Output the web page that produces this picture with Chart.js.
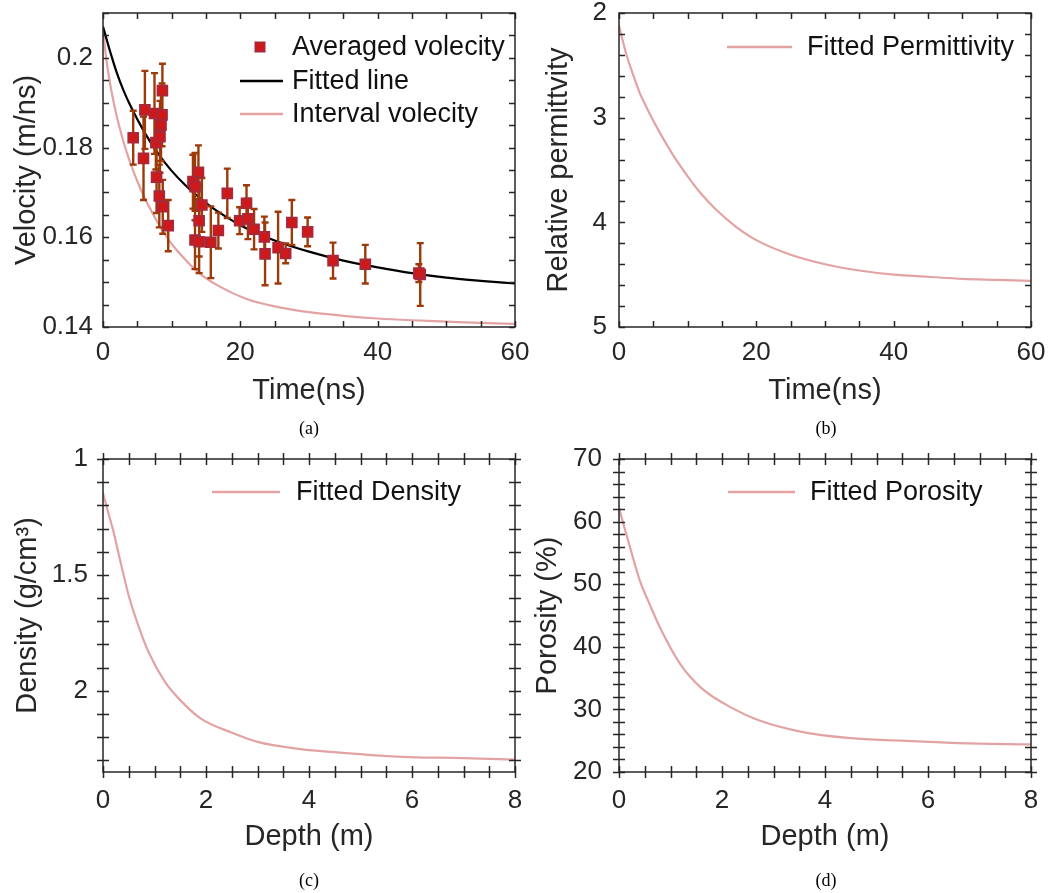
<!DOCTYPE html>
<html><head><meta charset="utf-8">
<script src="https://cdn.jsdelivr.net/npm/chart.js@4"></script>
<style>
html,body{margin:0;padding:0;background:#fff;}
#wrap{position:relative;width:1049px;height:893px;overflow:hidden;background:#fff;}
canvas{position:absolute;left:-60px;top:-60px;}
.cap{position:absolute;font-family:"Liberation Serif","Times New Roman",serif;font-size:18px;color:#000;transform:translate(-50%,-50%);white-space:nowrap;}
</style></head><body>
<div id="wrap">
<canvas id="ca" width="1169" height="1013"></canvas>
<canvas id="cb" width="1169" height="1013"></canvas>
<canvas id="cc" width="1169" height="1013"></canvas>
<canvas id="cd" width="1169" height="1013"></canvas>
<div class="cap" style="left:309px;top:428px">(a)</div>
<div class="cap" style="left:826px;top:428px">(b)</div>
<div class="cap" style="left:309px;top:880px">(c)</div>
<div class="cap" style="left:826px;top:880px">(d)</div>
</div>
<script>
// ---------- data ----------
const avgTime = [4.4, 5.9, 6.1, 7.5, 7.7, 7.8, 8.2, 8.3, 8.45, 8.6, 8.65, 8.7, 9.5, 13.1, 13.4, 13.4, 13.9, 14.0, 14.0, 14.4, 15.7, 16.8, 18.1, 19.9, 20.9, 21.1, 22.0, 23.5, 23.6, 25.5, 26.6, 27.5, 29.8, 33.5, 38.2, 46.2, 46.0];
const avgVel = [0.1822, 0.1776, 0.1884, 0.1876, 0.1811, 0.1734, 0.1692, 0.1824, 0.1850, 0.1873, 0.1927, 0.1668, 0.1626, 0.1724, 0.1713, 0.1594, 0.1745, 0.1590, 0.1637, 0.1672, 0.1589, 0.1615, 0.1698, 0.1637, 0.1676, 0.1641, 0.1618, 0.1601, 0.1563, 0.1577, 0.1564, 0.1633, 0.1612, 0.1548, 0.1540, 0.1517, 0.1520];
const avgErr = [0.006, 0.0093, 0.0087, 0.009, 0.006, 0.008, 0.007, 0.008, 0.008, 0.007, 0.006, 0.006, 0.0057, 0.006, 0.0075, 0.0065, 0.006, 0.007, 0.008, 0.006, 0.008, 0.004, 0.0055, 0.003, 0.004, 0.0045, 0.0045, 0.0045, 0.007, 0.008, 0.0022, 0.005, 0.0032, 0.004, 0.0043, 0.007, 0.002];

const fitTime = [0, 1, 2, 3, 4, 6, 8, 10, 12, 14, 16, 18, 20, 22, 25, 30, 35, 40, 45, 50, 55, 60];
const fitVel  = [0.2070, 0.2016, 0.1967, 0.1927, 0.1893, 0.1835, 0.1787, 0.1748, 0.1716, 0.1689, 0.1665, 0.1645, 0.1627, 0.1612, 0.1593, 0.1568, 0.1548, 0.1533, 0.1520, 0.1510, 0.1503, 0.1497];

const intTime = [0, 0.5, 1, 1.5, 2, 2.5, 3, 4, 5, 6, 7, 8, 9, 10, 12, 14, 17, 21, 25, 30, 35, 40, 45, 50, 55, 60];
const intVel  = [0.2062, 0.1995, 0.1945, 0.1905, 0.1870, 0.1840, 0.1812, 0.1765, 0.1725, 0.1690, 0.1660, 0.1632, 0.1607, 0.1585, 0.1550, 0.1520, 0.1490, 0.1462, 0.1446, 0.1433, 0.1425, 0.1419, 0.1415, 0.1412, 0.1409, 0.1407];

const permTime = [0, 1, 2, 3, 4, 5, 6, 8, 10, 12, 14, 17, 20, 25, 30, 35, 40, 45, 50, 55, 60];
const permVal  = [2.12, 2.38, 2.58, 2.76, 2.90, 3.03, 3.15, 3.37, 3.56, 3.73, 3.87, 4.04, 4.17, 4.31, 4.40, 4.46, 4.50, 4.52, 4.54, 4.55, 4.56];

const densDepth = [0, 0.1, 0.2, 0.33, 0.5, 0.72, 0.9, 1.2, 1.5, 1.9, 2.5, 3.0, 3.8, 4.8, 5.8, 7.0, 8.0];
const densVal   = [1.147, 1.23, 1.31, 1.435, 1.59, 1.74, 1.84, 1.96, 2.04, 2.12, 2.18, 2.22, 2.25, 2.27, 2.285, 2.29, 2.297];

const poroDepth = [0, 0.1, 0.2, 0.4, 0.6, 0.8, 1.2, 1.6, 2.2, 2.7, 3.5, 4.5, 5.5, 6.6, 8.0];
const poroVal   = [62.2, 59.2, 56.3, 50.7, 46.7, 43.0, 37.1, 33.4, 30.2, 28.3, 26.5, 25.4, 25.0, 24.6, 24.4];

const timeTicks = [0, 20, 40, 60];
const timeTickLabels = ['0', '20', '40', '60'];
const velTicks = [0.14, 0.16, 0.18, 0.2];
const velTickLabels = ['0.14', '0.16', '0.18', '0.2'];
const permTicks = [2, 3, 4, 5];
const permTickLabels = ['2', '3', '4', '5'];
const depthTicks = [0, 2, 4, 6, 8];
const depthTickLabels = ['0', '2', '4', '6', '8'];
const densTicks = [1, 1.5, 2];
const densTickLabels = ['1', '1.5', '2'];
const poroTicks = [20, 30, 40, 50, 60, 70];
const poroTickLabels = ['20', '30', '40', '50', '60', '70'];

// ---------- styling ----------
const FONT = '"Liberation Sans", Arial, Helvetica, sans-serif';
const AX = '#262626';
const PINK = '#e3a3a3';
const W = 1049, H = 893, M = 60;   // page size and canvas margin (canvas is offset by -M)

function toPts(xs, ys) { return xs.map((v, i) => ({x: v, y: ys[i]})); }
function minorVals(min, max, step) {
  const out = [];
  const n = Math.round((max - min) / step);
  for (let i = 0; i <= n; i++) out.push(min + i * step);
  return out;
}

const framePlugin = {
  id: 'frame',
  afterDraw(chart, args, o) {
    const {ctx, chartArea: a, scales: {x, y}} = chart;
    ctx.save();
    ctx.strokeStyle = AX;
    ctx.lineWidth = 1.5;
    const L = 6, out = o.both ? 6 : 0;
    ctx.beginPath();
    const xv = o.xMajor.concat(minorVals(o.xMin, o.xMax, o.xStep));
    const yv = o.yMajor.concat(minorVals(o.yMin, o.yMax, o.yStep));
    xv.forEach(v => {
      const p = Math.round(x.getPixelForValue(v)) + 0.5;
      if (p < a.left - 1 || p > a.right + 1) return;
      ctx.moveTo(p, a.bottom + out); ctx.lineTo(p, a.bottom - L);
      ctx.moveTo(p, a.top - out); ctx.lineTo(p, a.top + L);
    });
    yv.forEach(v => {
      const p = Math.round(y.getPixelForValue(v)) + 0.5;
      if (p < a.top - 1 || p > a.bottom + 1) return;
      ctx.moveTo(a.left - out, p); ctx.lineTo(a.left + L, p);
      ctx.moveTo(a.right + out, p); ctx.lineTo(a.right - L, p);
    });
    ctx.stroke();
    ctx.strokeRect(a.left, a.top, a.right - a.left, a.bottom - a.top);
    ctx.restore();
  }
};

const legendPlugin = {
  id: 'inlegend',
  afterDraw(chart, args, o) {
    const ctx = chart.ctx;
    ctx.save();
    ctx.font = '27px ' + FONT;
    ctx.textBaseline = 'middle';
    o.items.forEach(it => {
      const y = it.y + M;
      if (it.type === 'marker') {
        ctx.fillStyle = '#d01818';
        ctx.strokeStyle = '#a8283a';
        ctx.lineWidth = 2;
        const c = (it.x1 + it.x2) / 2 + M;
        ctx.fillRect(c - 4.5, y - 4.5, 9, 9);
        ctx.strokeRect(c - 4.5, y - 4.5, 9, 9);
      } else {
        ctx.strokeStyle = it.color;
        ctx.lineWidth = 2.5;
        ctx.beginPath(); ctx.moveTo(it.x1 + M, y); ctx.lineTo(it.x2 + M, y); ctx.stroke();
      }
      ctx.fillStyle = '#111';
      ctx.fillText(it.text, it.tx + M, y + 1);
    });
    ctx.restore();
  }
};

const errPlugin = {
  id: 'errbars',
  beforeDatasetDraw(chart, args, o) {
    if (!o.enabled || args.index !== 0) return;
    const {ctx, scales: {x, y}} = chart;
    ctx.save();
    ctx.strokeStyle = '#9c3a0a';
    ctx.lineWidth = 2.4;
    ctx.beginPath();
    avgTime.forEach((t, i) => {
      const px = x.getPixelForValue(t);
      const y1 = y.getPixelForValue(avgVel[i] + avgErr[i]);
      const y2 = y.getPixelForValue(avgVel[i] - avgErr[i]);
      ctx.moveTo(px, y1); ctx.lineTo(px, y2);
      ctx.moveTo(px - 3.5, y1); ctx.lineTo(px + 3.5, y1);
      ctx.moveTo(px - 3.5, y2); ctx.lineTo(px + 3.5, y2);
    });
    ctx.stroke();
    ctx.restore();
  }
};

function panel(id, cfg) {
  const a = cfg.area;
  const xH = cfg.xBottom - a.bottom;
  const yW = a.left - cfg.padLeft;
  const tickFont = {family: FONT, size: 26};
  const titleFont = {family: FONT, size: 29};
  return new Chart(document.getElementById(id), {
    type: 'scatter',
    data: {datasets: cfg.datasets},
    options: {
      responsive: false,
      animation: false,
      devicePixelRatio: 1,
      events: [],
      layout: {
        autoPadding: false,
        padding: {left: cfg.padLeft + M, top: a.top + M, right: W - a.right + M, bottom: H - cfg.xBottom + M}
      },
      scales: {
        x: {
          type: 'linear', position: 'bottom',
          min: cfg.x.min, max: cfg.x.max,
          afterBuildTicks: s => { s.ticks = cfg.x.ticks.map(v => ({value: v})); },
          afterFit: s => { s.height = xH; },
          grid: {display: false, drawTicks: false},
          border: {display: false},
          ticks: {font: tickFont, color: AX, padding: cfg.x.pad, maxRotation: 0, autoSkip: false,
                   callback: (v, i) => cfg.x.labels[i]},
          title: {display: true, text: cfg.x.title, font: titleFont, color: AX, padding: 0}
        },
        y: {
          type: 'linear', position: 'left',
          min: cfg.y.min, max: cfg.y.max, reverse: !!cfg.y.reverse,
          afterBuildTicks: s => { s.ticks = cfg.y.ticks.map(v => ({value: v})); },
          afterFit: s => { s.width = yW; },
          grid: {display: false, drawTicks: false},
          border: {display: false},
          ticks: {font: tickFont, color: AX, padding: cfg.y.pad, autoSkip: false,
                  callback: (v, i) => cfg.y.labels[i]},
          title: {display: true, text: cfg.y.title, font: titleFont, color: AX, padding: 0}
        }
      },
      plugins: {
        legend: {display: false},
        tooltip: {enabled: false},
        frame: cfg.frame,
        inlegend: {items: cfg.legend},
        errbars: {enabled: !!cfg.err}
      }
    },
    plugins: [errPlugin, framePlugin, legendPlugin]
  });
}

function lineDs(xs, ys, color, w) {
  return {type: 'line', data: toPts(xs, ys), borderColor: color, borderWidth: w,
          pointRadius: 0, fill: false, cubicInterpolationMode: 'monotone', showLine: true};
}

// (a) velocity
panel('ca', {
  area: {left: 103, right: 515, top: 13, bottom: 327},
  padLeft: 10, xBottom: 408,
  x: {min: 0, max: 60, ticks: timeTicks, labels: timeTickLabels, title: 'Time(ns)', pad: 10},
  y: {min: 0.14, max: 0.21, ticks: velTicks, labels: velTickLabels, title: 'Velocity (m/ns)', pad: 10},
  err: true,
  datasets: [
    {type: 'scatter', data: toPts(avgTime, avgVel), pointStyle: 'rect', pointRadius: 6.8,
     backgroundColor: '#d01818', borderColor: '#a8283a', borderWidth: 2},
    lineDs(fitTime, fitVel, '#000000', 2.2),
    lineDs(intTime, intVel, PINK, 2.2)
  ],
  frame: {both: false, xMajor: timeTicks, xMin: 0, xMax: 60, xStep: 5,
          yMajor: velTicks, yMin: 0.14, yMax: 0.21, yStep: 0.005},
  legend: [
    {type: 'marker', x1: 240, x2: 280, y: 47, tx: 292, text: 'Averaged volecity'},
    {type: 'line', color: '#000', x1: 240, x2: 283, y: 81, tx: 292, text: 'Fitted line'},
    {type: 'line', color: PINK, x1: 240, x2: 283, y: 114, tx: 292, text: 'Interval volecity'}
  ]
});

// (b) permittivity
panel('cb', {
  area: {left: 619, right: 1031, top: 13, bottom: 327},
  padLeft: 542, xBottom: 408,
  x: {min: 0, max: 60, ticks: timeTicks, labels: timeTickLabels, title: 'Time(ns)', pad: 10},
  y: {min: 2, max: 5, reverse: true, ticks: permTicks, labels: permTickLabels, title: 'Relative permittvity', pad: 12},
  datasets: [lineDs(permTime, permVal, PINK, 2.2)],
  frame: {both: false, xMajor: timeTicks, xMin: 0, xMax: 60, xStep: 5,
          yMajor: permTicks, yMin: 2, yMax: 5, yStep: 0.2},
  legend: [
    {type: 'line', color: PINK, x1: 727, x2: 792, y: 47, tx: 807, text: 'Fitted Permittivity'}
  ]
});

// (c) density
panel('cc', {
  area: {left: 103, right: 515, top: 459, bottom: 772},
  padLeft: 11, xBottom: 854,
  x: {min: 0, max: 8, ticks: depthTicks, labels: depthTickLabels, title: 'Depth (m)', pad: 13},
  y: {min: 1, max: 2.35, reverse: true, ticks: densTicks, labels: densTickLabels, title: 'Density (g/cm\u00B3)', pad: 15},
  datasets: [lineDs(densDepth, densVal, PINK, 2.2)],
  frame: {both: true, xMajor: depthTicks, xMin: 0, xMax: 8, xStep: 0.5,
          yMajor: densTicks, yMin: 1, yMax: 2.3, yStep: 0.1},
  legend: [
    {type: 'line', color: PINK, x1: 212, x2: 280, y: 492, tx: 296, text: 'Fitted Density'}
  ]
});

// (d) porosity
panel('cd', {
  area: {left: 619, right: 1031, top: 459, bottom: 772},
  padLeft: 531, xBottom: 854,
  x: {min: 0, max: 8, ticks: depthTicks, labels: depthTickLabels, title: 'Depth (m)', pad: 13},
  y: {min: 20, max: 70, ticks: poroTicks, labels: poroTickLabels, title: 'Porosity (%)', pad: 17},
  datasets: [lineDs(poroDepth, poroVal, PINK, 2.2)],
  frame: {both: true, xMajor: depthTicks, xMin: 0, xMax: 8, xStep: 0.5,
          yMajor: poroTicks, yMin: 20, yMax: 70, yStep: 2},
  legend: [
    {type: 'line', color: PINK, x1: 728, x2: 795, y: 492, tx: 810, text: 'Fitted Porosity'}
  ]
});
</script>
</body></html>
